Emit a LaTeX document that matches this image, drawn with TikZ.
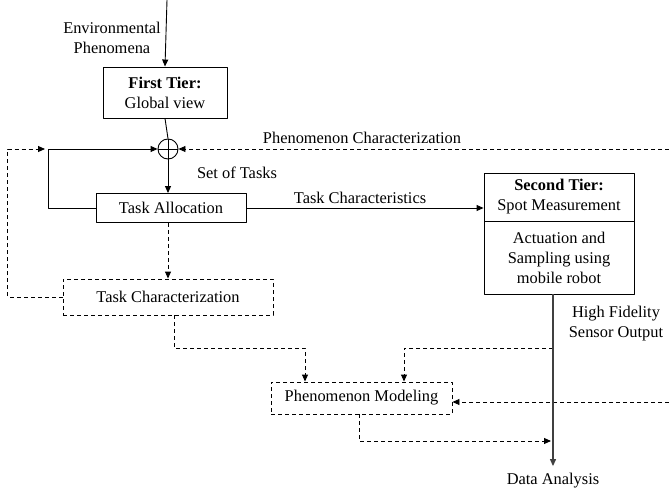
\documentclass[tikz,border=0pt]{standalone}
\usepackage{fontspec}
\setmainfont{Liberation Serif}
\usetikzlibrary{arrows.meta}
\begin{document}
\begin{tikzpicture}[x=1pt,y=-1pt,font=\fontsize{16.4}{20}\selectfont,line width=0.9pt,line join=round,>={Triangle[length=7pt,width=6pt]},
	blk/.style={draw,rectangle,inner sep=0pt,align=center},
	dsh/.style={dash pattern=on 4pt off 3pt},
	lbl/.style={inner sep=0pt,align=center}]
	\useasboundingbox (0,0) rectangle (669,489);
	\node[lbl] (env) at (112,38) {Environmental\\Phenomena};
	\coordinate (top) at (167,0);
	\node[blk,minimum width=124,minimum height=51] (tier1) at (165,92.5) {\textbf{First Tier:}\\Global view};
	\node[draw,circle,minimum size=20,inner sep=0pt] (sum) at (168,149) {};
	\node[blk,minimum width=150,minimum height=29] (alloc) at (171,208) {Task Allocation};
	\node[blk,dsh,minimum width=210,minimum height=36] (tchar) at (168,297) {Task Characterization};
	\node[blk,dsh,minimum width=181,minimum height=32] (pmod) at (361.5,398) {Phenomenon Modeling};
	\node[blk,minimum width=150,minimum height=48] (tier2) at (559,197) {\textbf{Second Tier:}\\Spot Measurement};
	\node[blk,minimum width=150,minimum height=73] (robot) at (559,257.5) {Actuation and\\Sampling using\\mobile robot};
	\node[lbl] (data) at (553,481) {Data Analysis};
	\node[lbl] (hfso) at (616,324) {High Fidelity\\Sensor Output};
	\node[lbl] (sot) at (237,173) {Set of Tasks};
	\node[lbl] (tcs) at (360,198) {Task Characteristics};
	\node[lbl] (pcz) at (362,138) {Phenomenon Characterization};
	\draw[->] (top) -- (tier1.north);
	\draw (tier1.south) -- (sum.north);
	\draw (sum.north) -- (sum.south) (sum.west) -- (sum.east);
	\draw[->] (sum.south) -- (alloc.north -| sum.south);
	\draw[->] (alloc.west) -- ++(-47,0) |- (sum.west);
	\draw[->] (alloc.east) -- (alloc.east -| tier2.west);
	\coordinate (pcR) at (669,149);
	\draw[dsh,->] (pcR) -- (sum.east);
	\coordinate (fbL) at (45,149);
	\draw[dsh,->] (tchar.west) -- ++(-55,0) |- (fbL);
	\draw[dsh,->] (alloc.south -| sum.south) -- (tchar.north -| sum.south);
	\draw[dsh,->] ([xshift=6pt]tchar.south) -- ++(0,33) -| ([xshift=-56.5pt]pmod.north);
	\coordinate (tap) at (553,348);
	\draw[dsh,->] (tap) -| ([xshift=42.5pt]pmod.north);
	\coordinate (pmR) at (669,402);
	\draw[dsh,->] (pmR) -- (pmR -| pmod.east);
	\coordinate (tap2) at (551,441);
	\draw[dsh,->] ([xshift=-2.5pt]pmod.south) |- (tap2);
	\draw[->,line width=1.1pt,black!75] (robot.south -| data) -- ([yshift=7pt]data.north);
\end{tikzpicture}
\end{document}
